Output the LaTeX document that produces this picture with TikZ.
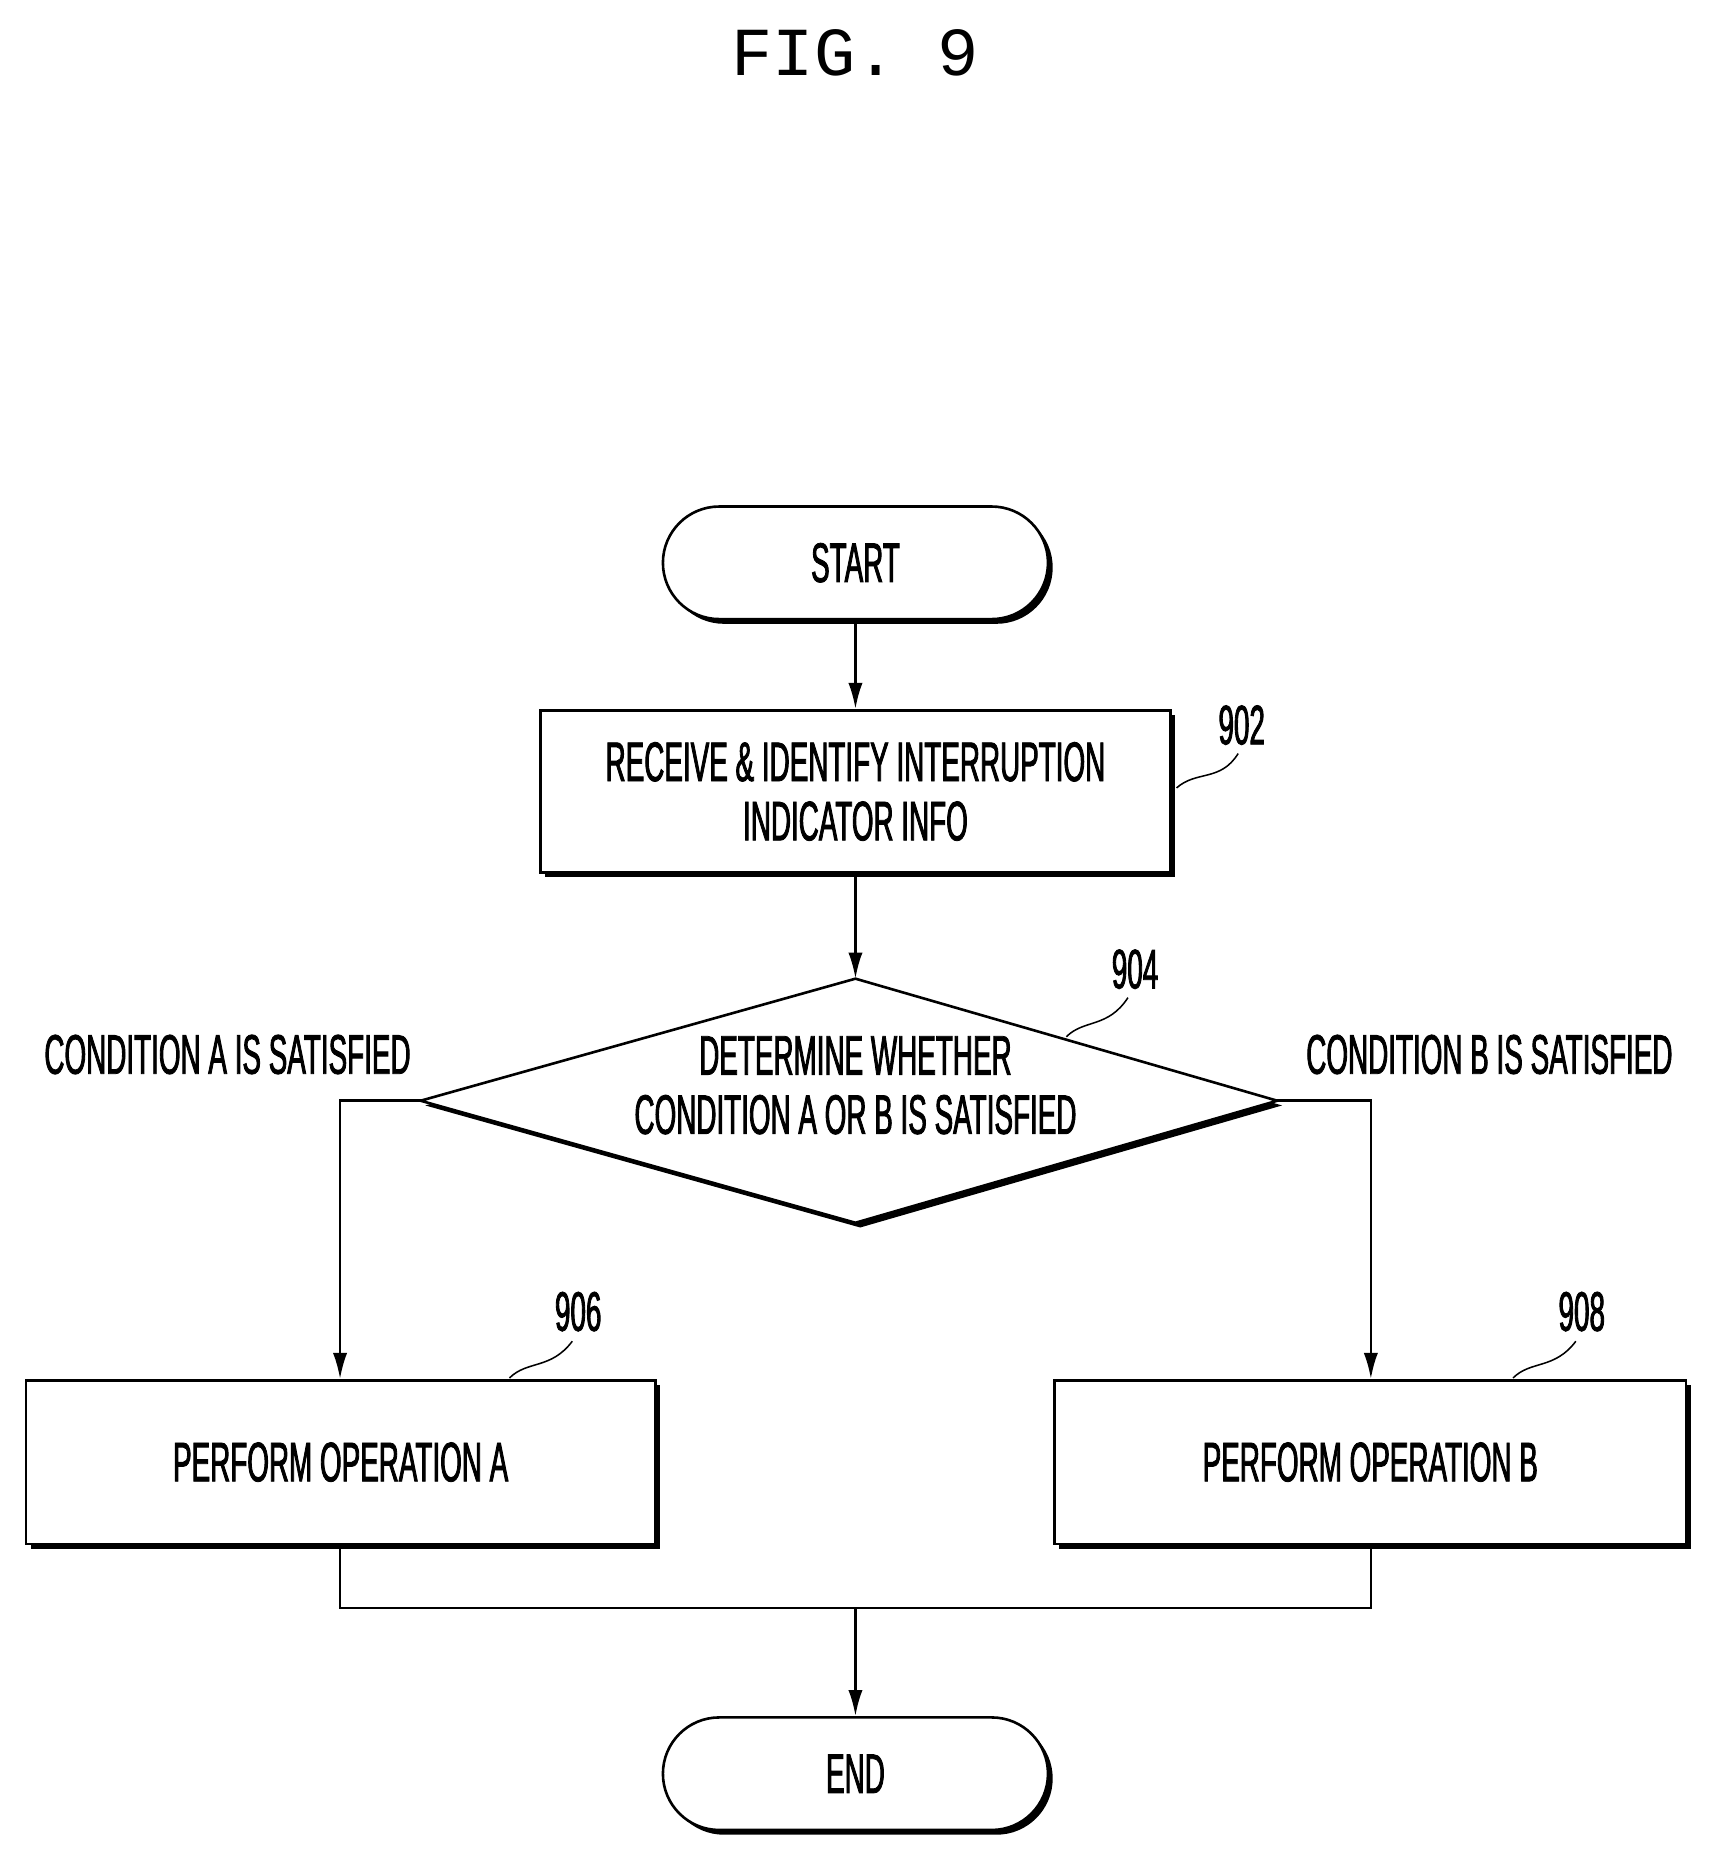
\documentclass[tikz,border=0pt]{standalone}
\usepackage{fontspec}
\setmainfont{Liberation Sans}[FakeStretch=0.5,FakeBold=1.5]
\newfontfamily\titlefont{Liberation Mono}
\usetikzlibrary{shapes.geometric,shapes.misc,shadows,arrows.meta}
\begin{document}
\begin{tikzpicture}[x=1pt,y=-1pt,
  every node/.style={font=\fontsize{47}{50}\selectfont},
  sh/.style={draw,line width=2.2pt,fill=white,
    drop shadow={shadow xshift=4pt,shadow yshift=-4pt,fill=black,opacity=1}},
  term/.style={sh,rounded rectangle,minimum width=325pt,minimum height=95pt,inner sep=0pt},
  box/.style={sh,rectangle,align=center,inner sep=0pt},
  arr/.style={line width=2.2pt,-{Latex[length=22pt,width=12pt]}},
  ln/.style={line width=2.2pt},
  lead/.style={line width=1.3pt}]
\useasboundingbox (0,0) rectangle (1450,1569);
\node[font=\titlefont\fontsize{58}{60}\selectfont] (title) at (722,45) {FIG. 9};
\node[term] (start) at (722,475) {START};
\node[box,minimum width=532pt,minimum height=137pt] (s902) at (722,668) {RECEIVE \& IDENTIFY INTERRUPTION\\INDICATOR INFO};
\path[sh] (722,826) coordinate (dtop) -- (1078,929) coordinate (dright) -- (722,1032) coordinate (dbot) -- (355,929) coordinate (dleft) -- cycle;
\node[align=center] (dtext) at (722,916) {DETERMINE WHETHER\\CONDITION A OR B IS SATISFIED};
\node[box,minimum width=531pt,minimum height=138pt] (s906) at (287.5,1234) {PERFORM OPERATION A};
\node[box,minimum width=533pt,minimum height=138pt] (s908) at (1156.5,1234) {PERFORM OPERATION B};
\node[term] (end) at (722,1497) {END};
\node (ca) at (192,890) {CONDITION A IS SATISFIED};
\node (cb) at (1257,890) {CONDITION B IS SATISFIED};
\node (l902) at (1048,612) {902};
\node (l904) at (958,818) {904};
\node (l906) at (488,1107) {906};
\node (l908) at (1335,1107) {908};
\coordinate (ac) at (287,929);
\coordinate (bc) at (1157,929);
\coordinate (mj) at (722,1357);
\draw[arr] (start) -- (s902);
\draw[arr] (s902) -- (dtop);
\draw[arr] (dleft) -- (ac) -- (s906.north -| ac);
\draw[arr] (dright) -- (bc) -- (s908.north -| bc);
\draw[ln] (s906.south -| ac) |- (mj) -| (s908.south -| bc);
\draw[arr] (mj) -- (end);
\draw[lead] (993,665) .. controls (1010,650) and (1030,660) .. (1045,636);
\draw[lead] (900,875) .. controls (915,860) and (935,868) .. (952,842);
\draw[lead] (430,1163) .. controls (445,1148) and (465,1156) .. (483,1132);
\draw[lead] (1277,1163) .. controls (1292,1148) and (1312,1156) .. (1330,1132);
\end{tikzpicture}
\end{document}
